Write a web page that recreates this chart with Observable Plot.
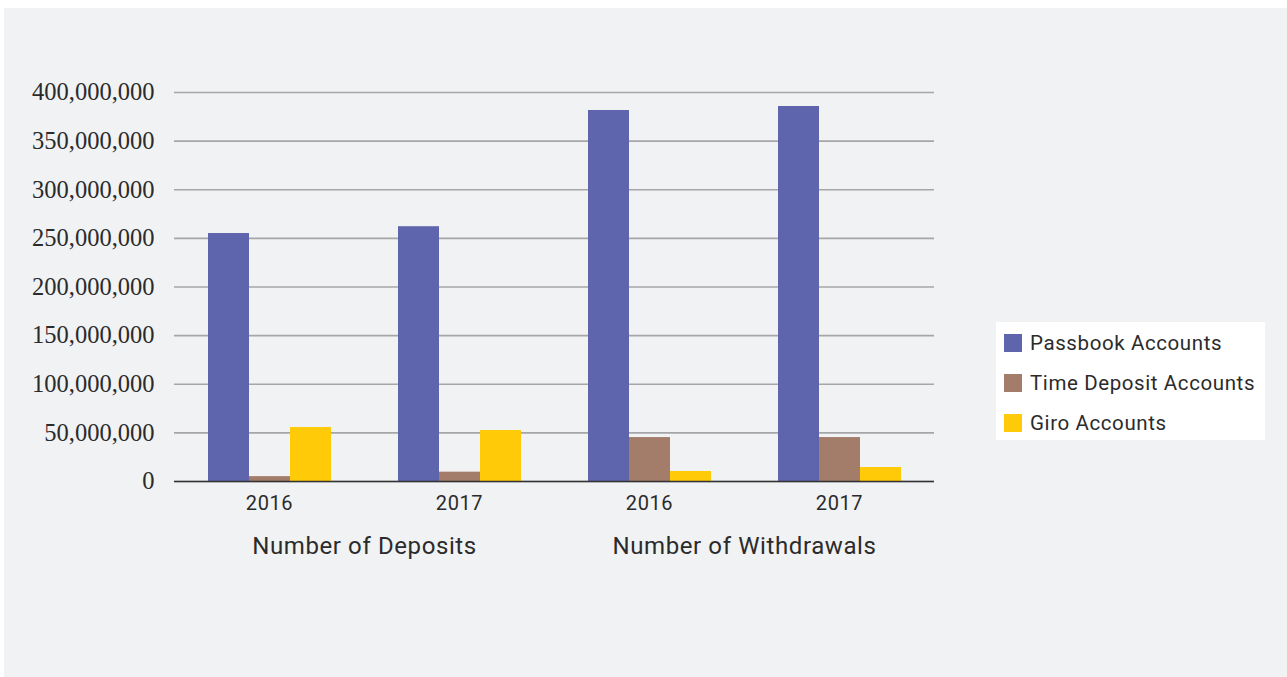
<!DOCTYPE html>
<html><head><meta charset="utf-8">
<script src="https://cdn.jsdelivr.net/npm/d3@7"></script>
<script src="https://cdn.jsdelivr.net/npm/@observablehq/plot@0.6"></script>
<style>
body{margin:0;background:#fff;}
#panel{position:absolute;left:4px;top:8px;width:1283px;height:669px;background:#f1f2f4;}
#legend{position:absolute;left:992px;top:314px;width:269px;height:118px;background:#fff;font-family:Roboto,sans-serif;font-weight:400;font-size:20.5px;letter-spacing:0.6px;color:#2b2b2b;}
.row{position:absolute;left:8px;display:flex;align-items:center;height:20px;}
.sw{width:18px;height:18px;margin-right:8px;}
.fxlab text{letter-spacing:0.6px;}
</style></head>
<body>
<div id="panel"><div id="chart"></div><div id="legend"></div></div>
<script>
const groups = ["Number of Deposits", "Number of Withdrawals"];
const years = ["2016", "2017"];
const series = ["Passbook Accounts", "Time Deposit Accounts", "Giro Accounts"];
const colors = ["#5f65ad", "#a37c6a", "#ffca08"];
// values in order: Deposits 2016, Deposits 2017, Withdrawals 2016, Withdrawals 2017
const passbook = [255e6, 262e6, 381.5e6, 385.6e6];
const timeDeposit = [5e6, 9.6e6, 45.2e6, 45.2e6];
const giro = [55.5e6, 52.4e6, 10.3e6, 14.4e6];
const yTicks = [0, 50e6, 100e6, 150e6, 200e6, 250e6, 300e6, 350e6, 400e6];

const keys = [];
groups.forEach(g => years.forEach(y => keys.push(g + "|" + y)));
const valuesBySeries = [passbook, timeDeposit, giro];
const data = [];
keys.forEach((k, i) => series.forEach((s, j) => data.push({key: k, series: s, value: valuesBySeries[j][i]})));
const groupLabels = groups.map(g => ({key: g + "|" + years[0], label: g}));

const fmt = d3.format(",");
const chart = Plot.plot({
  width: 1283, height: 669,
  marginLeft: 168, marginRight: 352, marginTop: 84, marginBottom: 196,
  style: {background: "transparent", color: "#2b2b2b"},
  fx: {domain: keys, padding: 0, label: null, axis: null},
  x: {domain: series, paddingInner: 0, paddingOuter: 0.8, axis: null},
  y: {domain: [0, 400e6], label: null},
  color: {domain: series, range: colors},
  marks: [
    Plot.gridY(yTicks, {stroke: "#a6a6a8", strokeOpacity: 1, strokeWidth: 1.6}),
    Plot.axisY(yTicks, {tickFormat: fmt, tickSize: 0, tickPadding: 20, fontFamily: "Liberation Serif", fontSize: 24.5, label: null, fill: "#2b2b2b"}),
    Plot.barY(data, {fx: "key", x: "series", y: "value", fill: "series"}),
    Plot.ruleY([0], {stroke: "#333", strokeWidth: 1.6}),
    Plot.axisFx({anchor: "bottom", className: "fxlab", tickFormat: k => k.split("|")[1], tickSize: 0, tickPadding: 14, fontFamily: "Roboto", fontWeight: 400, fontSize: 20, label: null, fill: "#2b2b2b"}),
    Plot.text(groupLabels, {fx: "key", text: "label", frameAnchor: "bottom-right", textAnchor: "middle", dy: 72, fontFamily: "Roboto", fontWeight: 400, fontSize: 24, fill: "#2b2b2b", className: "fxlab"})
  ]
});
document.getElementById("chart").appendChild(chart);

const legend = document.getElementById("legend");
series.forEach((s, i) => {
  const row = document.createElement("div");
  row.className = "row";
  row.style.top = (11 + i * 40) + "px";
  row.innerHTML = `<div class="sw" style="background:${colors[i]}"></div><span>${s}</span>`;
  legend.appendChild(row);
});
</script>
</body></html>
